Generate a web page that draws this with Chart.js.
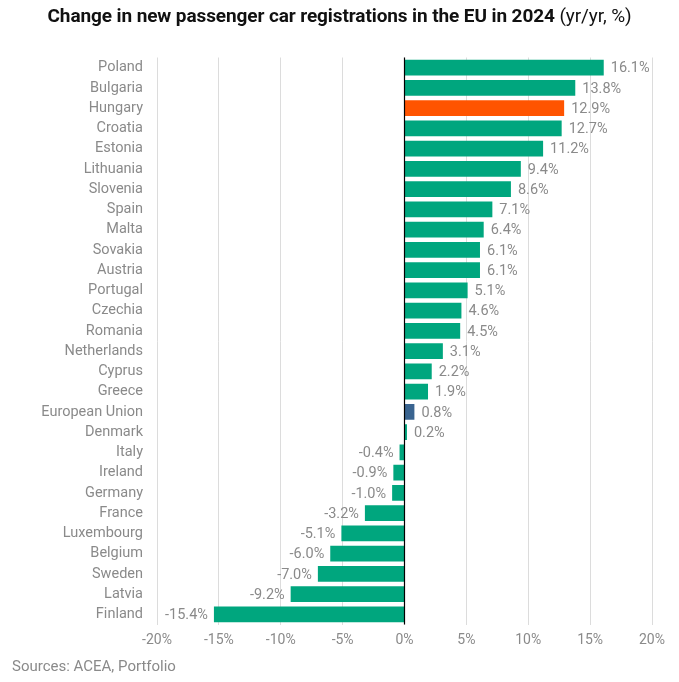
<!DOCTYPE html>
<html><head><meta charset="utf-8">
<script src="https://cdn.jsdelivr.net/npm/chart.js@4"></script>
<style>
html,body{margin:0;padding:0;background:#fff;}
#wrap{position:relative;width:679px;height:682px;}
#title{position:absolute;left:0;top:4px;width:679px;text-align:center;font-family:Roboto,sans-serif;font-size:19px;color:#111;letter-spacing:-0.1px;}
#title b{font-weight:700;}
#src{position:absolute;left:12px;top:657px;font-family:Roboto,sans-serif;font-size:15px;color:#8a8a8a;}
canvas{position:absolute;left:0;top:0;}
</style></head>
<body>
<div id="wrap">
<canvas id="c" width="679" height="682"></canvas>
<div id="title"><b>Change in new passenger car registrations in the EU in 2024</b> (yr/yr, %)</div>
<div id="src">Sources: ACEA, Portfolio</div>
</div>
<script>
const categories = ["Poland","Bulgaria","Hungary","Croatia","Estonia","Lithuania","Slovenia","Spain","Malta","Sovakia","Austria","Portugal","Czechia","Romania","Netherlands","Cyprus","Greece","European Union","Denmark","Italy","Ireland","Germany","France","Luxembourg","Belgium","Sweden","Latvia","Finland"];
const values = [16.1,13.8,12.9,12.7,11.2,9.4,8.6,7.1,6.4,6.1,6.1,5.1,4.6,4.5,3.1,2.2,1.9,0.8,0.2,-0.4,-0.9,-1.0,-3.2,-5.1,-6.0,-7.0,-9.2,-15.4];
const highlight = {"Hungary":"#FF5400","European Union":"#3A6490"};
const baseColor = "#00A67E";
const xTicks = [-20,-15,-10,-5,0,5,10,15,20];

const colors = categories.map(c => highlight[c] || baseColor);

const valueLabels = {
  id:'valueLabels',
  afterDatasetsDraw(chart){
    const ctx = chart.ctx;
    const meta = chart.getDatasetMeta(0);
    ctx.save();
    ctx.font = '14.5px Roboto, sans-serif';
    ctx.fillStyle = '#8a8a8a';
    ctx.textBaseline = 'middle';
    meta.data.forEach((bar,i)=>{
      const v = values[i];
      const txt = v.toFixed(1) + '%';
      if (v >= 0){ ctx.textAlign='left'; ctx.fillText(txt, bar.x + 7, bar.y + 1); }
      else { ctx.textAlign='right'; ctx.fillText(txt, bar.x - 6, bar.y + 1); }
    });
    ctx.restore();
  }
};
const zeroLine = {
  id:'zeroLine',
  afterDatasetsDraw(chart){
    const x = chart.scales.x.getPixelForValue(0);
    const ctx = chart.ctx;
    ctx.save();
    ctx.strokeStyle = '#000'; ctx.lineWidth = 1.2;
    ctx.beginPath(); ctx.moveTo(x, chart.chartArea.top); ctx.lineTo(x, chart.chartArea.bottom); ctx.stroke();
    ctx.restore();
  }
};

new Chart(document.getElementById('c'), {
  type:'bar',
  data:{ labels:categories, datasets:[{ data:values, backgroundColor:colors, barPercentage:0.78, categoryPercentage:1.0 }]},
  options:{
    indexAxis:'y',
    responsive:false,
    animation:false,
    devicePixelRatio:1,
    layout:{ padding:{ top:57.5, right:27, bottom:27.5, left:0 } },
    plugins:{ legend:{display:false}, tooltip:{enabled:false}, title:{display:false} },
    scales:{
      x:{
        min:-20, max:20,
        afterBuildTicks(s){ s.ticks = xTicks.map(v=>({value:v})); },
        ticks:{ callback:v=>v+'%', color:'#8a8a8a', font:{family:'Roboto', size:14}, padding:8 },
        grid:{ color:'#dcdcdc', drawTicks:false, lineWidth:1 },
        border:{ display:false },
        afterFit(s){ s.height = 30; }
      },
      y:{
        ticks:{ color:'#8a8a8a', font:{family:'Roboto', size:14.5}, padding:14, autoSkip:false },
        grid:{ display:false, drawTicks:false },
        border:{ display:false },
        afterFit(s){ s.width = 157; }
      }
    }
  },
  plugins:[zeroLine, valueLabels]
});
</script>
</body></html>
